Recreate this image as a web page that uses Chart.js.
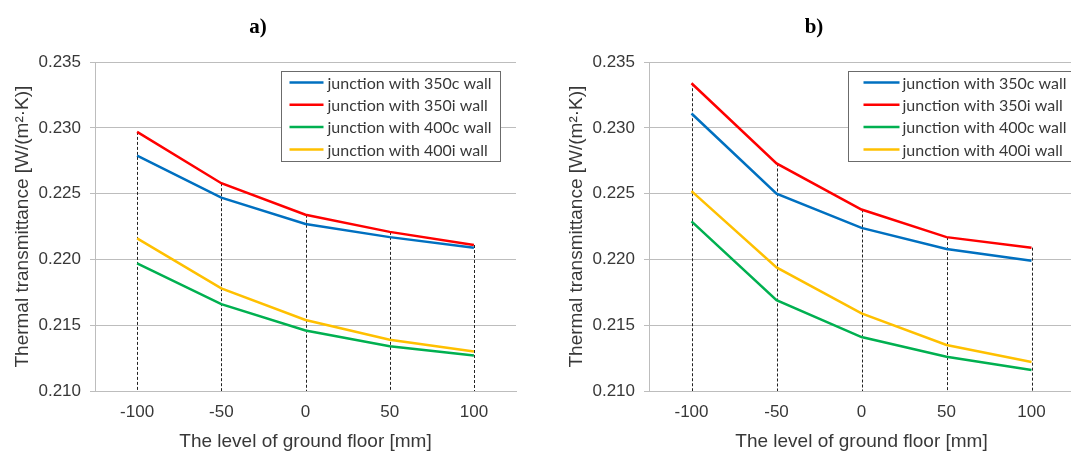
<!DOCTYPE html>
<html>
<head>
<meta charset="utf-8">
<script src="https://cdn.jsdelivr.net/npm/chart.js@4.4.0/dist/chart.umd.min.js"></script>
<style>
  html, body { margin: 0; padding: 0; background: #fff; overflow: hidden; }
  #wrap { position: relative; width: 1071px; height: 453px; overflow: hidden; }
  #chartA { position: absolute; left: 0; top: 0; }
  #chartB { position: absolute; left: 535px; top: 0; }
</style>
</head>
<body>
<div id="wrap">
  <canvas id="chartA" width="535" height="453"></canvas>
  <canvas id="chartB" width="570" height="453"></canvas>
</div>
<script>
// ground floor levels [mm]
const levels = ['-100', '-50', '0', '50', '100'];

const seriesNames = [
  'junction with 350c wall',
  'junction with 350i wall',
  'junction with 400c wall',
  'junction with 400i wall'
];
const seriesColors = ['#0070c0', '#ff0000', '#00b050', '#ffc000'];

// y axis range, W/(m2K)
const yMin = 0.210;
const yMax = 0.235;
const yStep = 0.005;

// panel a)
const a350c = [0.2279, 0.2247, 0.2227, 0.2217, 0.2209];
const a350i = [0.2297, 0.2258, 0.2234, 0.2221, 0.2211];
const a400c = [0.2197, 0.2166, 0.2146, 0.2134, 0.2127];
const a400i = [0.2216, 0.2178, 0.2154, 0.2139, 0.2130];

// panel b)
const b350c = [0.2311, 0.2250, 0.2224, 0.2208, 0.2199];
const b350i = [0.2334, 0.2273, 0.2238, 0.2217, 0.2209];
const b400c = [0.2229, 0.2169, 0.2141, 0.2126, 0.2116];
const b400i = [0.2252, 0.2194, 0.2159, 0.2135, 0.2122];

const textColor = '#383838';
const gridColor = '#bdbdbd';

// dashed drop lines from the highest point down to the axis
const dropLines = {
  id: 'dropLines',
  beforeDatasetsDraw(chart) {
    const { ctx, chartArea, scales } = chart;
    ctx.save();
    ctx.strokeStyle = '#222';
    ctx.lineWidth = 1;
    ctx.setLineDash([3, 2]);
    chart.data.labels.forEach((lab, i) => {
      const top = Math.max(...chart.data.datasets.map(ds => ds.data[i]));
      const x = Math.round(scales.x.getPixelForValue(i)) + 0.5;
      ctx.beginPath();
      ctx.moveTo(x, scales.y.getPixelForValue(top));
      ctx.lineTo(x, chartArea.bottom);
      ctx.stroke();
    });
    ctx.restore();
  }
};

// legend with a frame, placed inside the plot
const boxLegend = {
  id: 'boxLegend',
  afterDraw(chart, args, opts) {
    const { ctx, chartArea } = chart;
    const x0 = Math.round(chartArea.left + opts.dx) + 0.5;
    const y0 = Math.round(chartArea.top + opts.dy) + 0.5;
    ctx.save();
    ctx.fillStyle = '#fff';
    ctx.fillRect(x0, y0, opts.width, opts.height);
    ctx.strokeStyle = '#6b6b6b';
    ctx.lineWidth = 1;
    ctx.strokeRect(x0, y0, opts.width, opts.height);
    ctx.font = '16px Lato';
    ctx.textBaseline = 'middle';
    chart.data.datasets.forEach((ds, i) => {
      const y = y0 + opts.firstRow + i * opts.rowGap;
      ctx.strokeStyle = ds.borderColor;
      ctx.lineWidth = 2.5;
      ctx.beginPath();
      ctx.moveTo(x0 + opts.padLeft, y);
      ctx.lineTo(x0 + opts.padLeft + opts.lineLen, y);
      ctx.stroke();
      ctx.fillStyle = textColor;
      ctx.fillText(ds.label, x0 + opts.padLeft + opts.lineLen + opts.gap, y + 1);
    });
    ctx.restore();
  }
};

function makeChart(id, title, values, padLeft, padRight, legendOpts) {
  const datasets = values.map((v, i) => ({
    label: seriesNames[i],
    data: v,
    borderColor: seriesColors[i],
    backgroundColor: seriesColors[i],
    borderWidth: 2.5,
    pointRadius: 0,
    tension: 0,
    fill: false
  }));

  return new Chart(document.getElementById(id), {
    type: 'line',
    data: { labels: levels, datasets: datasets },
    plugins: [dropLines, boxLegend],
    options: {
      responsive: false,
      animation: false,
      devicePixelRatio: 1,
      layout: { padding: { left: padLeft, right: padRight, top: 0, bottom: 0 } },
      plugins: {
        legend: { display: false },
        tooltip: { enabled: false },
        title: {
          display: true,
          text: title,
          color: '#000',
          font: { family: 'Liberation Serif', size: 21, weight: 'bold' },
          padding: { top: 15, bottom: 22 }
        },
        boxLegend: legendOpts
      },
      scales: {
        x: {
          type: 'category',
          offset: true,
          grid: { display: false, drawTicks: false, tickLength: 0 },
          border: { display: true, color: gridColor, width: 1 },
          ticks: {
            color: textColor,
            padding: 11,
            font: { family: 'Liberation Sans', size: 17 }
          },
          title: {
            display: true,
            text: 'The level of ground floor [mm]',
            color: textColor,
            font: { family: 'Liberation Sans', size: 19 },
            padding: { top: 0, bottom: 0 }
          },
          afterFit(s) { s.height = 62; }
        },
        y: {
          min: yMin,
          max: yMax,
          grid: { color: gridColor, lineWidth: 1, drawTicks: true, tickLength: 5 },
          border: { display: true, color: gridColor, width: 1 },
          ticks: {
            stepSize: yStep,
            padding: 9,
            color: textColor,
            font: { family: 'Liberation Sans', size: 17 },
            callback: v => Number(v).toFixed(3)
          },
          title: {
            display: true,
            text: 'Thermal transmittance [W/(m²·K)]',
            color: textColor,
            font: { family: 'Liberation Sans', size: 19 },
            padding: { top: 11, bottom: 0 }
          },
          afterFit(s) { s.width = 95; }
        }
      }
    }
  });
}

makeChart('chartA', 'a)', [a350c, a350i, a400c, a400i], 0, 19,
  { dx: 186, dy: 9, width: 219, height: 90, firstRow: 11, rowGap: 22.3, padLeft: 8, lineLen: 34, gap: 4 });

makeChart('chartB', 'b)', [b350c, b350i, b400c, b400i], 19, 31,
  { dx: 199, dy: 9, width: 226, height: 90, firstRow: 11, rowGap: 22.3, padLeft: 15, lineLen: 36, gap: 3 });
</script>
</body>
</html>
